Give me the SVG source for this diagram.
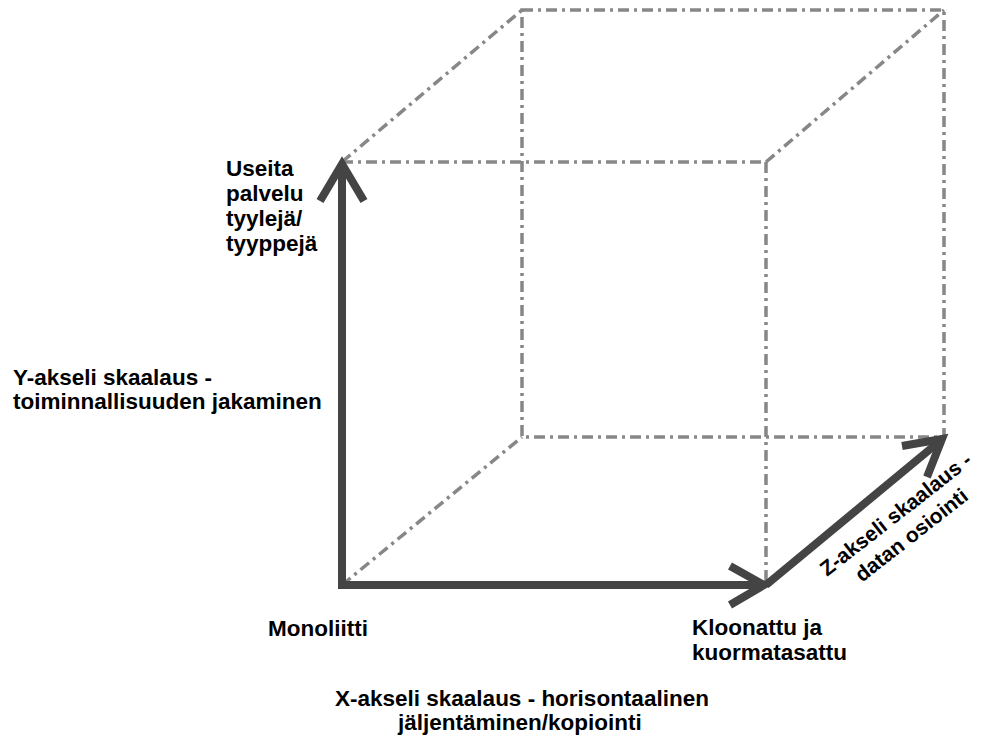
<svg xmlns="http://www.w3.org/2000/svg" width="990" height="746" viewBox="0 0 990 746">
  <style>
    .edge { fill: none; stroke: #878787; stroke-width: 3.5; stroke-dasharray: 11 5 3 5; }
    .axis { fill: none; stroke: #444444; stroke-width: 8; stroke-linejoin: miter; }
    .head { fill: none; stroke: #444444; stroke-width: 8; stroke-linecap: butt; stroke-linejoin: miter; }
    .lbl { font-family: "Liberation Sans", Arial, sans-serif; font-weight: bold; font-size: 22.5px; fill: #000000; }
    .zlbl { font-size: 21px; }
  </style>
  <rect width="990" height="746" fill="#ffffff"/>

  <!-- hidden cube edges -->
  <g id="cube-edges">
    <polygon class="edge" points="522,10 944,10 944,437 522,437"/>
    <line class="edge" x1="342" y1="162" x2="766" y2="162"/>
    <line class="edge" x1="766" y1="162" x2="766" y2="585"/>
    <line class="edge" x1="342" y1="162" x2="522" y2="10"/>
    <line class="edge" x1="766" y1="162" x2="944" y2="10"/>
    <line class="edge" x1="342" y1="585" x2="522" y2="437"/>
  </g>

  <!-- scaling axes -->
  <g id="connectors">
    <g id="y-axis">
      <line class="axis" x1="342" y1="589" x2="342" y2="166"/>
      <polyline class="head" points="320,201 342,164 364,201"/>
    </g>
    <g id="x-axis">
      <line class="axis" x1="338" y1="585" x2="761" y2="585"/>
      <polyline class="head" points="730,566 764,585 730,605"/>
    </g>
    <g id="z-axis">
      <line class="axis" x1="766" y1="585" x2="940" y2="441"/>
      <polyline class="head" points="902,446 942,439 927,477"/>
    </g>
  </g>

  <g id="label-y-end">
    <text class="lbl" x="226" y="176">Useita</text>
    <text class="lbl" x="226" y="201">palvelu</text>
    <text class="lbl" x="226" y="226">tyylejä/</text>
    <text class="lbl" x="226" y="251">tyyppejä</text>
  </g>

  <g id="label-y-axis">
    <text class="lbl" x="13" y="385">Y-akseli skaalaus -</text>
    <text class="lbl" x="13" y="409">toiminnallisuuden jakaminen</text>
  </g>

  <g id="label-origin">
    <text class="lbl" x="268" y="636">Monoliitti</text>
  </g>

  <g id="label-x-end">
    <text class="lbl" x="692" y="635">Kloonattu ja</text>
    <text class="lbl" x="692" y="660">kuormatasattu</text>
  </g>

  <g id="label-x-axis">
    <text class="lbl" x="335" y="706">X-akseli skaalaus - horisontaalinen</text>
    <text class="lbl" x="398" y="730">jäljentäminen/kopiointi</text>
  </g>

  <g id="label-z-axis" transform="translate(827,577) rotate(-38)">
    <text class="lbl zlbl" x="0" y="0">Z-akseli skaalaus -</text>
    <text class="lbl zlbl" x="24" y="26">datan osiointi</text>
  </g>
</svg>
